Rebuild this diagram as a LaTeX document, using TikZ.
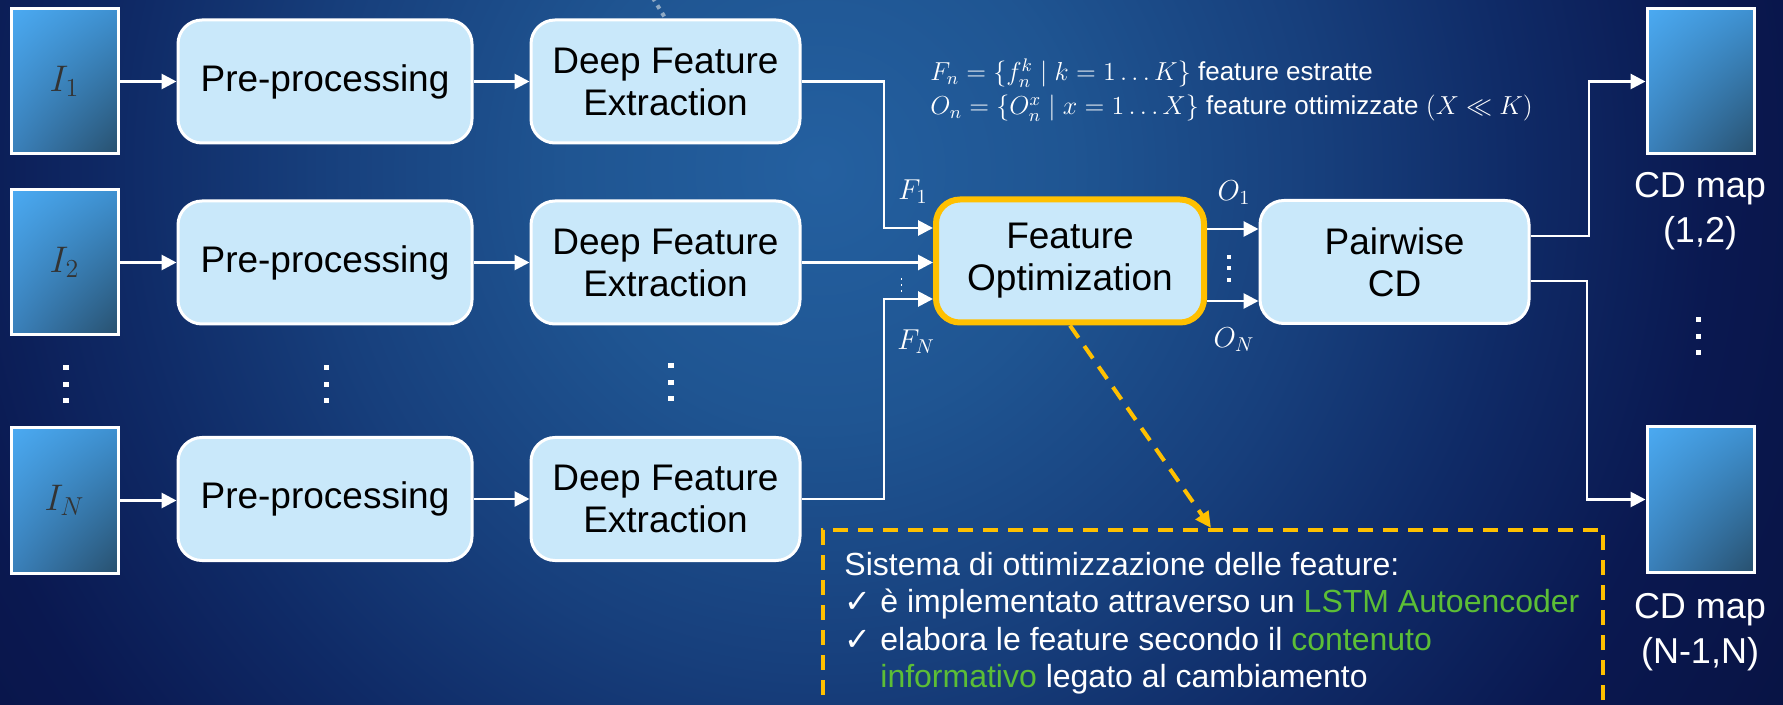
\RequirePackage{fix-cm}
\documentclass[tikz,border=0pt]{standalone}
\usepackage{fontspec}
\setmainfont{Liberation Sans}
\newfontfamily\checkfont{DejaVu Sans}
\usetikzlibrary{arrows.meta,shadings}

% background glow (25bp marks the rim of the shaded circle)
\definecolor{bgA}{HTML}{2460A0}
\definecolor{bgB}{HTML}{1F5592}
\definecolor{bgC}{HTML}{173F7C}
\definecolor{bgD}{HTML}{0F2A66}
\definecolor{bgE}{HTML}{0A1850}
\definecolor{bgF}{HTML}{07103C}
\pgfdeclareradialshading{bgglow}{\pgfpointorigin}{color(0bp)=(bgA); color(5bp)=(bgB); color(10bp)=(bgC); color(14bp)=(bgD); color(18bp)=(bgE); color(25bp)=(bgF); color(50bp)=(bgF)}

% element colours
\definecolor{boxfill}{HTML}{C9E8FA}
\definecolor{optorange}{HTML}{FFC000}
\definecolor{hlgreen}{HTML}{5CBE36}
\definecolor{labelgrey}{HTML}{333333}
\definecolor{imgTL}{HTML}{4BAAF2}
\definecolor{imgTR}{HTML}{3E90D0}
\definecolor{imgBL}{HTML}{3A80BA}
\definecolor{imgBR}{HTML}{28506E}
\definecolor{trail}{HTML}{8FA9C4}

\begin{document}
\begin{tikzpicture}[x=0.5pt,y=-0.5pt,
  procbox/.style={draw=white, line width=1.5pt, fill=boxfill, rounded corners=12pt,
    minimum height=61.5pt, inner sep=0pt, align=center, text=black,
    font=\fontsize{18.5}{21}\selectfont},
  ppbox/.style={procbox, minimum width=147pt},
  dfbox/.style={procbox, minimum width=134.5pt},
  optbox/.style={procbox, draw=optorange, line width=3pt, minimum width=134pt},
  imgbox/.style={draw=white, line width=1.5pt, minimum width=53.5pt, minimum height=72.5pt,
    inner sep=0pt, shade, shading=bilinear interpolation,
    upper left=imgTL, upper right=imgTR, lower left=imgBL, lower right=imgBR,
    text=labelgrey, font=\fontsize{18.5}{22}\selectfont},
  flow/.style={draw=white, line width=1.4pt, -{Triangle[length=7.5pt,width=7.5pt]}},
  hint/.style={draw=optorange, line width=2pt, dash pattern=on 7.5pt off 5pt,
    -{Triangle[length=8pt,width=7.5pt]}},
  notebox/.style={draw=optorange, line width=2pt, dash pattern=on 7.5pt off 5pt,
    minimum width=390pt, minimum height=120pt, inner sep=0pt},
  mlabel/.style={text=white, inner sep=0pt, font=\fontsize{14.4}{17}\selectfont},
  formula/.style={text=white, inner sep=0pt, anchor=west, align=left, font=\fontsize{13}{17}\selectfont},
  notetext/.style={text=white, inner sep=0pt, anchor=base west, font=\fontsize{16}{19}\selectfont},
  maplabel/.style={text=white, inner sep=0pt, align=center, font=\fontsize{18}{22.5}\selectfont}
]
\useasboundingbox (0,0) rectangle (1783,705);
\clip (0,0) rectangle (1783,705);

% backdrop
\shade[shading=bgglow] (820,170) circle (1250);

% input images
\node[imgbox] (i1) at (64.5,81.5) {$I_1$};
\node[imgbox] (i2) at (64.5,262.5) {$I_2$};
\node[imgbox] (iN) at (64.5,500.5) {$I_N$};

% pre-processing
\node[ppbox] (pp1) at (325,81.5) {Pre-processing};
\node[ppbox] (pp2) at (325,262.5) {Pre-processing};
\node[ppbox] (ppN) at (325,499) {Pre-processing};

% deep feature extraction
\node[dfbox] (df1) at (665.5,81.5) {Deep Feature\\Extraction};
\node[dfbox] (df2) at (665.5,262.5) {Deep Feature\\Extraction};
\node[dfbox] (dfN) at (665.5,499) {Deep Feature\\Extraction};

% optimisation and change detection
\node[optbox] (fo) at (1070,261) {Feature\\Optimization};
\node[dfbox] (pw) at (1394.5,262) {Pairwise\\CD};

% output maps
\node[imgbox] (cd1) at (1700.5,81.5) {};
\node[imgbox] (cdN) at (1700.5,499.5) {};
\node[maplabel] (cd1lab) at (1700,211) {CD map\\(1,2)};
\node[maplabel] (cdNlab) at (1700,632) {CD map\\(N-1,N)};

% dotted trail entering the first extractor from above
\coordinate (trailend) at (648,-10);
\draw[trail, line width=2pt, dash pattern=on 2pt off 2.5pt] (trailend) -- (df1.north);

% row connectors
\draw[flow] (i1.east) -- (pp1.west |- i1.east);
\draw[flow] (i2.east) -- (pp2.west |- i2.east);
\draw[flow] (iN.east) -- (ppN.west |- iN.east);
\draw[flow] (pp1.east) -- (df1.west |- pp1.east);
\draw[flow] (pp2.east) -- (df2.west |- pp2.east);
\draw[flow] (ppN.east) -- (dfN.west |- ppN.east);

% features into the optimiser
\coordinate (fbend) at (884,0);
\coordinate (fin1) at (0,228);
\coordinate (finN) at (0,299);
\draw[flow] (df1.east) -- (fbend |- df1.east) |- (fo.west |- fin1);
\draw[flow] (df2.east) -- (fo.west |- df2.east);
\draw[flow] (dfN.east) -- (fbend |- dfN.east) |- (fo.west |- finN);
\node[mlabel] (lf1) at (913,192) {$F_1$};
\node[mlabel] (lfN) at (916,342) {$F_N$};
\foreach \yy in {279,285,291} \fill[white] (900.5,\yy-0.8) rectangle (902,\yy+0.8);

% optimised features into pairwise CD
\coordinate (oin1) at (0,229);
\coordinate (oinN) at (0,301);
\draw[flow] (fo.east |- oin1) -- (pw.west |- oin1);
\draw[flow] (fo.east |- oinN) -- (pw.west |- oinN);
\node[mlabel] (lo1) at (1234,193) {$O_1$};
\node[mlabel] (loN) at (1234,340) {$O_N$};
\foreach \yy in {257,268.5,280} \fill[white] (1227,\yy-2) rectangle (1231,\yy+2);

% pairwise CD to the maps
\coordinate (rout1) at (0,236);
\coordinate (routN) at (0,281);
\coordinate (rbend1) at (1589,0);
\coordinate (rbendN) at (1587,0);
\draw[flow] (pw.east |- rout1) -- (rbend1 |- rout1) |- (cd1.west);
\draw[flow] (pw.east |- routN) -- (rbendN |- routN) |- (cdN.west);

% vertical ellipses
\foreach \xx/\ya in {66/368, 326.5/368, 671/366, 1698.5/320}
  \foreach \k in {0,1,2}
    \fill[white] (\xx-2.8,\ya+16.5*\k-2.5) rectangle (\xx+2.8,\ya+16.5*\k+2.5);

% feature definitions
\node[formula] (defs) at (930,90) {$F_n = \{f_n^k \mid k = 1 \ldots K\}$ feature estratte\\
  $O_n = \{O_n^x \mid x = 1 \ldots X\}$ feature ottimizzate $(X \ll K)$};

% optimiser description
\node[notebox] (note) at (1213,650) {};
\coordinate (tipx) at (1211,0);
\draw[hint] (fo.south) -- (tipx |- note.north);
\node[notetext] (t1) at (844,575) {Sistema di ottimizzazione delle feature:};
\node[notetext] (c2) at (844,612.5) {\checkfont ✓};
\node[notetext] (t2) at (880,612.5) {è implementato attraverso un \textcolor{hlgreen}{LSTM Autoencoder}};
\node[notetext] (c3) at (844,650) {\checkfont ✓};
\node[notetext] (t3) at (880,650) {elabora le feature secondo il \textcolor{hlgreen}{contenuto}};
\node[notetext] (t4) at (880,687.5) {\textcolor{hlgreen}{informativo} legato al cambiamento};
\end{tikzpicture}
\end{document}
